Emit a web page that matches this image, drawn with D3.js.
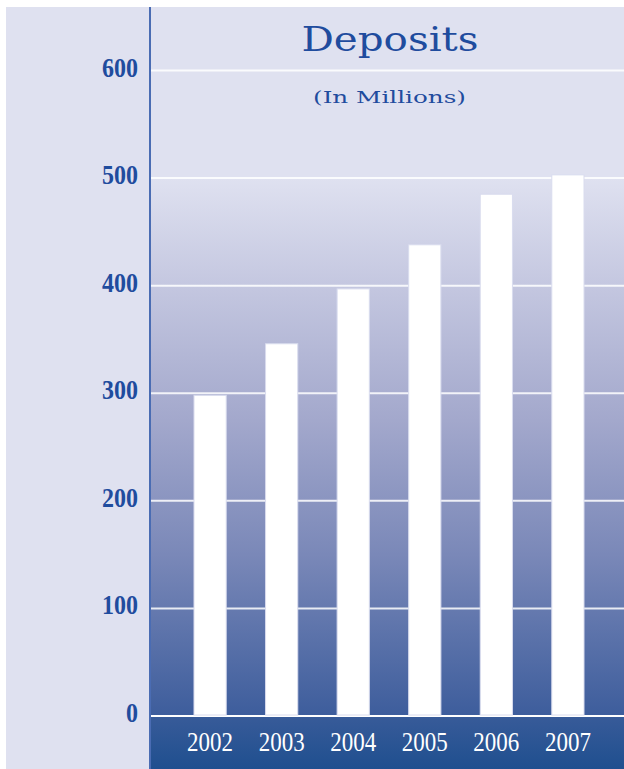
<!DOCTYPE html>
<html>
<head>
<meta charset="utf-8">
<script src="https://cdn.jsdelivr.net/npm/d3@7"></script>
<style>
  html, body { margin: 0; padding: 0; background: #ffffff; }
  svg { display: block; }
</style>
</head>
<body>
<script>
// Deposits by year, in millions
const years = ["2002", "2003", "2004", "2005", "2006", "2007"];
const deposits = [298, 346, 397, 438, 485, 503];
const yTicks = [0, 100, 200, 300, 400, 500, 600];

const W = 624, H = 769;
const svg = d3.select("body").append("svg").attr("width", W).attr("height", H);

const plotLeft = 150, plotRight = W, bottom = 716;
const y = d3.scaleLinear().domain([0, 600]).range([bottom, 70.5]);
const x = d3.scaleBand().domain(years).range([194, 584]).paddingInner(0.55).paddingOuter(0);

const defs = svg.append("defs");
const fade = defs.append("linearGradient").attr("id", "fade")
  .attr("gradientUnits", "userSpaceOnUse")
  .attr("x1", 0).attr("x2", 0).attr("y1", y(500)).attr("y2", bottom);
[[0, "#dfe1f0"], [0.2, "#c4c7e0"], [0.45, "#a3a8cc"], [0.7, "#7a88b8"], [1, "#3d5d9c"]]
  .forEach(([o, c]) => fade.append("stop").attr("offset", o).attr("stop-color", c));

const band = defs.append("linearGradient").attr("id", "band")
  .attr("gradientUnits", "userSpaceOnUse")
  .attr("x1", 0).attr("x2", 0).attr("y1", bottom).attr("y2", H);
band.append("stop").attr("offset", 0).attr("stop-color", "#385b99");
band.append("stop").attr("offset", 1).attr("stop-color", "#1f4f8f");

// page panel
svg.append("rect").attr("x", 6).attr("y", 7).attr("width", W - 6).attr("height", H - 7)
  .attr("fill", "#dfe1f0");

// plot shading below the 500 line
svg.append("rect").attr("x", plotLeft).attr("y", y(500))
  .attr("width", plotRight - plotLeft).attr("height", bottom - y(500))
  .attr("fill", "url(#fade)");

// category band under the baseline
svg.append("rect").attr("x", plotLeft).attr("y", bottom)
  .attr("width", plotRight - plotLeft).attr("height", H - bottom)
  .attr("fill", "url(#band)");

// gridlines
svg.append("g").selectAll("line").data(yTicks).join("line")
  .attr("x1", plotLeft).attr("x2", plotRight)
  .attr("y1", d => y(d)).attr("y2", d => y(d))
  .attr("stroke", "#ffffff").attr("stroke-width", 2)
  .attr("stroke-opacity", d => d === 0 ? 1 : 0.85);

// bars
svg.append("g").selectAll("rect").data(deposits).join("rect")
  .attr("x", (d, i) => x(years[i]))
  .attr("y", d => y(d))
  .attr("width", x.bandwidth())
  .attr("height", d => bottom - 1 - y(d))
  .attr("fill", "#ffffff")
  .attr("stroke", "#d9dcee").attr("stroke-width", 1);

// vertical axis line
svg.append("line").attr("x1", plotLeft).attr("x2", plotLeft).attr("y1", 7).attr("y2", H)
  .attr("stroke", "#4a6cb3").attr("stroke-width", 2);

// y tick labels
svg.append("g").selectAll("text").data(yTicks).join("text")
  .attr("x", 138).attr("y", d => y(d) + 6)
  .attr("text-anchor", "end")
  .attr("font-family", "Liberation Serif, serif")
  .attr("font-weight", "bold")
  .attr("font-size", 27)
  .attr("fill", "#1f4c9e")
  .attr("textLength", d => String(d).length * 12)
  .attr("lengthAdjust", "spacingAndGlyphs")
  .text(d => d);

// x category labels
svg.append("g").selectAll("text").data(years).join("text")
  .attr("x", d => x(d) + x.bandwidth() / 2).attr("y", 751)
  .attr("text-anchor", "middle")
  .attr("font-family", "Liberation Serif, serif")
  .attr("font-size", 27)
  .attr("fill", "#ffffff")
  .attr("textLength", 46)
  .attr("lengthAdjust", "spacingAndGlyphs")
  .text(d => d);

// title
svg.append("text").attr("x", 390).attr("y", 51)
  .attr("text-anchor", "middle")
  .attr("font-family", "DejaVu Serif, serif")
  .attr("font-size", 33)
  .attr("fill", "#1f4c9e")
  .attr("textLength", 177)
  .attr("lengthAdjust", "spacingAndGlyphs")
  .text("Deposits");

svg.append("text").attr("x", 389.5).attr("y", 103)
  .attr("text-anchor", "middle")
  .attr("font-family", "DejaVu Serif, serif")
  .attr("font-size", 17)
  .attr("fill", "#1f4c9e")
  .attr("textLength", 153)
  .attr("lengthAdjust", "spacingAndGlyphs")
  .text("(In Millions)");
</script>
</body>
</html>
